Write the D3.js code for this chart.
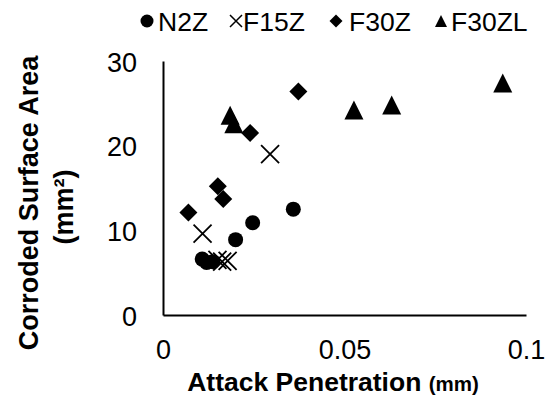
<!DOCTYPE html>
<html>
<head>
<meta charset="utf-8">
<script src="https://cdn.jsdelivr.net/npm/d3@7/dist/d3.min.js"></script>
<style>
  html, body { margin: 0; padding: 0; background: #fff; }
  svg { display: block; font-family: "Liberation Sans", Arial, sans-serif; }
</style>
</head>
<body>
<svg id="chart" width="549" height="397"></svg>
<script>
// ---- data ----
const seriesNames = ["N2Z", "F15Z", "F30Z", "F30ZL"];
const n2zX   = [0.0108, 0.0120, 0.0137, 0.0200, 0.0247, 0.0359];
const n2zY   = [6.6, 6.2, 6.3, 8.9, 10.9, 12.5];
const f15zX  = [0.0109, 0.0150, 0.0163, 0.0178, 0.0295];
const f15zY  = [9.6, 6.5, 6.3, 6.4, 19.0];
const f30zX  = [0.0070, 0.0151, 0.0166, 0.0240, 0.0373];
const f30zY  = [12.1, 15.2, 13.7, 21.5, 26.4];
const f30zlX = [0.0185, 0.0195, 0.0526, 0.0630, 0.0936];
const f30zlY = [23.6, 22.6, 24.2, 24.8, 27.4];
const xTicks = [0, 0.05, 0.1];
const xTickLabels = ["0", "0.05", "0.1"];
const yTicks = [0, 10, 20, 30];
const yTickLabels = ["0", "10", "20", "30"];

const svg = d3.select("#chart");
const x = d3.scaleLinear().domain([0, 0.1]).range([163, 526]);
const y = d3.scaleLinear().domain([0, 30]).range([315, 61]);

// axes
const xAxis = d3.axisBottom(x).tickValues(xTicks).tickSize(0).tickPadding(25)
  .tickFormat((d, i) => xTickLabels[i]);
const yAxis = d3.axisLeft(y).tickValues(yTicks).tickSize(0).tickPadding(26)
  .tickFormat((d, i) => yTickLabels[i]);

const gx = svg.append("g").attr("transform", `translate(0,${y(0)})`).call(xAxis);
const gy = svg.append("g").attr("transform", `translate(${x(0)},0)`).call(yAxis);
[gx, gy].forEach(g => {
  g.select(".domain").attr("stroke", "#000").attr("stroke-width", 2);
  g.selectAll("text").attr("font-size", 27).attr("fill", "#000")
    .attr("font-family", "'Liberation Sans', Arial, sans-serif");
});
gy.selectAll("text").attr("dy", "0.37em");

// axis titles
svg.append("text")
  .attr("x", 333).attr("y", 391)
  .attr("text-anchor", "middle")
  .attr("font-weight", "bold").attr("font-size", 26.5)
  .html('Attack Penetration <tspan font-size="20.5">(mm)</tspan>');

svg.append("text")
  .attr("transform", "translate(38,203) rotate(-90)")
  .attr("text-anchor", "middle")
  .attr("font-weight", "bold").attr("font-size", 27)
  .text("Corroded Surface Area");
svg.append("text")
  .attr("transform", "translate(73,207) rotate(-90)")
  .attr("text-anchor", "middle")
  .attr("font-weight", "bold").attr("font-size", 27)
  .text("(mm²)");

// symbols
const sym = {
  circle:   s => d3.symbol().type(d3.symbolCircle).size(Math.PI * s * s)(),
  diamond:  s => `M0,${-s}L${s},0L0,${s}L${-s},0Z`,
  triangle: s => `M0,${-s}L${s},${s}L${-s},${s}Z`,
  cross:    s => `M${-s},${-s}L${s},${s}M${s},${-s}L${-s},${s}`
};

function drawSeries(xs, ys, kind, size) {
  const data = xs.map((v, i) => [v, ys[i]]);
  svg.append("g").selectAll("path").data(data).join("path")
    .attr("transform", d => `translate(${x(d[0])},${y(d[1])})`)
    .attr("d", sym[kind](size))
    .attr("fill", kind === "cross" ? "none" : "#000")
    .attr("stroke", "#000")
    .attr("stroke-width", kind === "cross" ? 1.8 : 0);
}
drawSeries(n2zX, n2zY, "circle", 7.5);
drawSeries(f15zX, f15zY, "cross", 9);
drawSeries(f30zX, f30zY, "diamond", 9);
drawSeries(f30zlX, f30zlY, "triangle", 9.5);

// legend
const legend = [
  { name: seriesNames[0], kind: "circle", size: 6.5, mx: 147, tx: 158 },
  { name: seriesNames[1], kind: "cross", size: 6, mx: 236, tx: 243 },
  { name: seriesNames[2], kind: "diamond", size: 6.5, mx: 336, tx: 349 },
  { name: seriesNames[3], kind: "triangle", size: 6, mx: 441, tx: 451 }
];
const lg = svg.append("g");
legend.forEach(l => {
  lg.append("path")
    .attr("transform", `translate(${l.mx},21)`)
    .attr("d", sym[l.kind](l.size))
    .attr("fill", l.kind === "cross" ? "none" : "#000")
    .attr("stroke", "#000")
    .attr("stroke-width", l.kind === "cross" ? 1.5 : 0);
  lg.append("text")
    .attr("x", l.tx).attr("y", 31)
    .attr("font-size", 26.5).attr("fill", "#000")
    .text(l.name);
});
</script>
</body>
</html>
